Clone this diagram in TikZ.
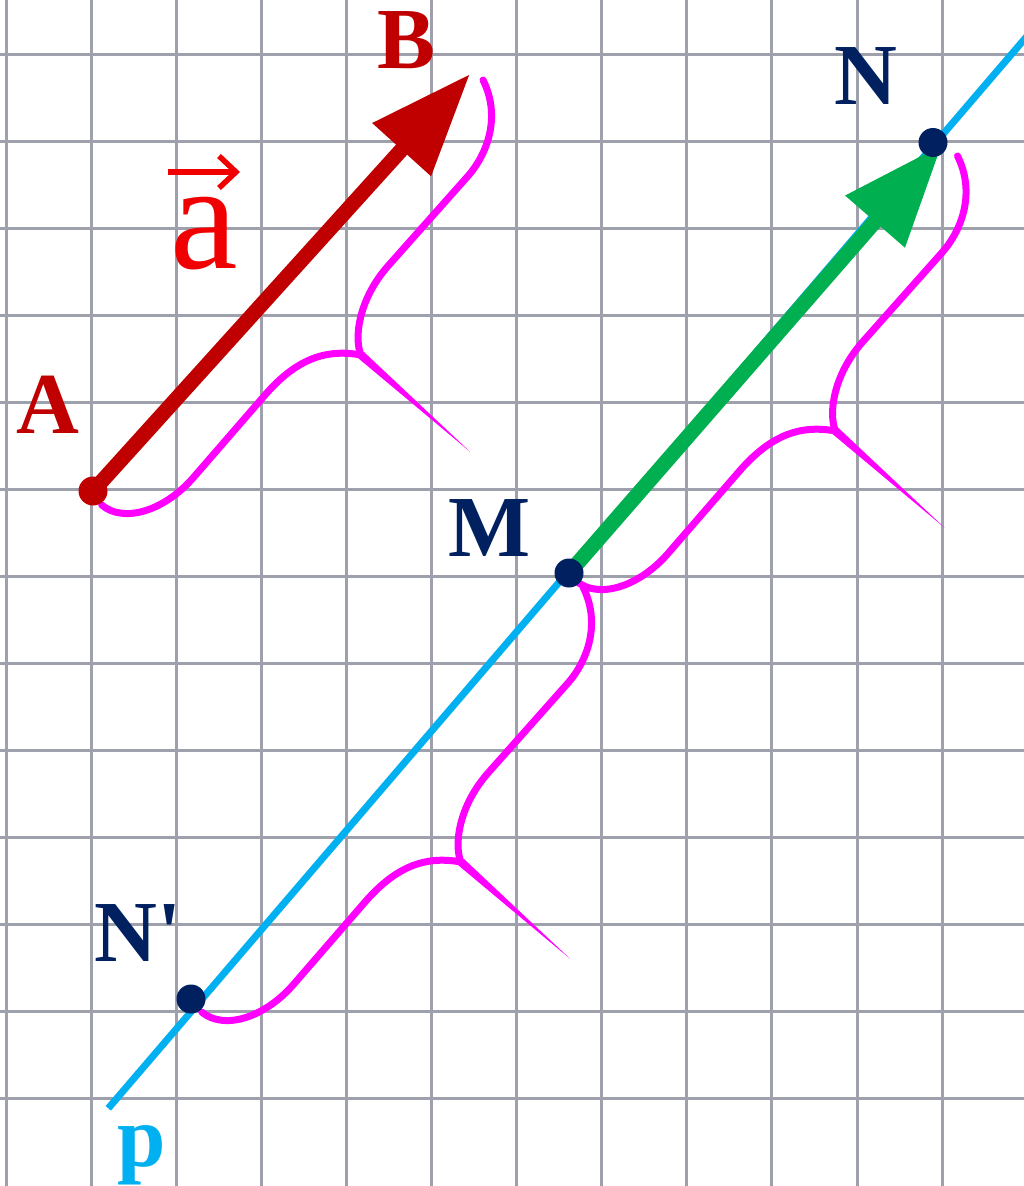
\documentclass[tikz,border=0pt]{standalone}
\usepackage{fontspec}
\newfontfamily\lab{Liberation Serif}
\usetikzlibrary{arrows.meta}
\definecolor{darkred}{HTML}{C00000}
\definecolor{navy}{HTML}{002060}
\definecolor{cyanp}{HTML}{00B0F0}
\definecolor{greenv}{HTML}{00B050}
\definecolor{magb}{HTML}{FF00FF}
\definecolor{vecr}{HTML}{F00000}
\definecolor{gridc}{RGB}{158,160,172}
\pgfdeclarelayer{gridlayer}
\pgfdeclarelayer{lineslayer}
\pgfsetlayers{gridlayer,lineslayer,main}
\tikzset{
  gridline/.style={draw=gridc,line width=3pt},
  pline/.style={draw=cyanp,line width=7pt},
  vecred/.style={draw=darkred,line width=15pt,-{Triangle[length=102pt,width=75pt]}},
  vecgreen/.style={draw=greenv,line width=15pt,-{Triangle[length=102pt,width=75pt]}},
  dotred/.style={circle,fill=darkred,minimum size=29pt,inner sep=0pt},
  dotnavy/.style={circle,fill=navy,minimum size=29pt,inner sep=0pt},
  lbl/.style={font=\lab\bfseries\fontsize{87}{87}\selectfont,inner sep=0pt,anchor=base},
  lblred/.style={lbl,text=darkred},
  lblnavy/.style={lbl,text=navy},
  lblcyan/.style={lbl,text=cyanp},
  bracestroke/.style={draw=magb,line width=7pt,line cap=round},
  mybrace/.pic={
    \draw[bracestroke] (8.7,14) .. controls (30,32) and (70,21) .. (100,-13)
      -- (172,-96) .. controls (205,-134) and (235,-142) .. (268,-136);
    \draw[bracestroke] (268,-136) .. controls (261,-152) and (265,-191) .. (295,-225)
      -- (375,-315) .. controls (395,-338) and (408,-375) .. (390,-411);
    \fill[magb] (265,-133) -- (377,-39.3) -- (271,-139) -- cycle;
  }
}
\begin{document}
\begin{tikzpicture}[x=1pt,y=-1pt]
\useasboundingbox (0,0) rectangle (1024,1186);
\clip (0,0) rectangle (1024,1186);
% dots
\node[dotred] (A) at (93,491) {};
\node[dotnavy] (M) at (569,573) {};
\node[dotnavy] (N) at (933,142.5) {};
\node[dotnavy] (Np) at (191,999) {};
\coordinate (Btip) at (470,74);
\coordinate (Ntip) at (942,144.7);
\coordinate (pend) at (108.3,1108.3);
\coordinate (ptop) at (1058,0);
% labels
\node[lblred] (Alab) at (48,433) {A};
\node[lblred] (Blab) at (407,68) {B};
\node[lblnavy] (Nlab) at (866,104) {N};
\node[lblnavy] (Mlab) at (490,556) {M};
\node[lblnavy,anchor=base west] (Nplab) at (94,961) {N'};
\node[lblcyan] (plab) at (142,1166) {p};
\node[font=\lab\fontsize{152}{152}\selectfont,text=vecr,inner sep=0pt,anchor=base] (alab) at (204.5,268) {a};
\draw[vecr,line width=5.5pt] (168,172) -- (236,172);
\draw[vecr,line width=5.5pt,line join=miter] (219,156) -- (236,172) -- (219,188);
\begin{pgfonlayer}{gridlayer}
  \fill[white] (0,0) rectangle (1024,1186);
  \foreach \i in {0,...,11} \draw[gridline] ({6+85.1*\i},0) -- ({6+85.1*\i},1186);
  \foreach \j in {0,...,12} \draw[gridline] (0,{54.5+87*\j}) -- (1024,{54.5+87*\j});
\end{pgfonlayer}
\begin{pgfonlayer}{lineslayer}
  \draw[pline] (pend) -- (ptop);
  \pic at (93,491) {mybrace};
  \pic at (567.5,567) {mybrace};
  \pic at (193,998) {mybrace};
  \draw[vecred] (A.center) -- (Btip);
  \draw[vecgreen] (M.center) -- (Ntip);
\end{pgfonlayer}
\end{tikzpicture}
\end{document}
